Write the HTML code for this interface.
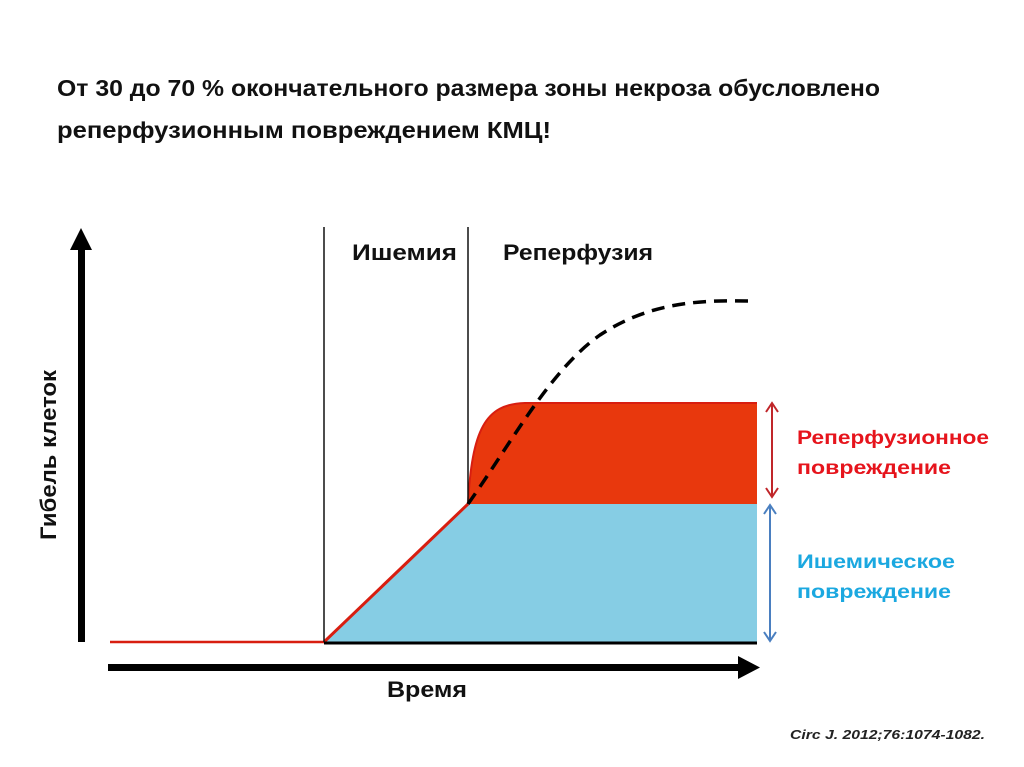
<!DOCTYPE html>
<html><head><meta charset="utf-8"><style>
html,body{margin:0;padding:0;background:#fff;}
svg{display:block;}
text{font-family:"Liberation Sans","DejaVu Sans",sans-serif;font-weight:bold;}
</style></head><body>
<svg width="1024" height="767" viewBox="0 0 1024 767" xmlns="http://www.w3.org/2000/svg">
<text x="57" y="96" font-size="23" fill="#111" textLength="823" lengthAdjust="spacingAndGlyphs">От 30 до 70 % окончательного размера зоны некроза обусловлено</text>
<text x="57" y="138" font-size="23" fill="#111" textLength="494" lengthAdjust="spacingAndGlyphs">реперфузионным повреждением КМЦ!</text>

<polygon points="324,642 468,504 757,504 757,642" fill="#86cde4"/>
<path d="M468,504 C472,430 485,404 525,403 L757,403 L757,504 Z" fill="#e8380d"/>
<path d="M468,504 C472,430 485,404 525,403 L757,403" fill="none" stroke="#d81e10" stroke-width="2"/>
<line x1="324" y1="642" x2="468" y2="504" stroke="#d81e10" stroke-width="3"/>
<line x1="110" y1="642" x2="324" y2="642" stroke="#d81e10" stroke-width="2.5"/>
<line x1="324" y1="643" x2="757" y2="643" stroke="#000" stroke-width="3"/>
<line x1="324" y1="227" x2="324" y2="642" stroke="#111" stroke-width="1.5"/>
<line x1="468" y1="227" x2="468" y2="504" stroke="#111" stroke-width="1.5"/>
<path d="M468,504 C510,445 550,370 600,335 C650,302 700,300 750,301" fill="none" stroke="#000" stroke-width="3.5" stroke-dasharray="13,8"/>
<rect x="78" y="248" width="7" height="394" fill="#000"/>
<polygon points="70,250 81,228 92,250" fill="#000"/>
<rect x="108" y="664" width="632" height="7" fill="#000"/>
<polygon points="738,656 760,667.5 738,679" fill="#000"/>
<g stroke="#c0262a" stroke-width="2" fill="none">
<line x1="772" y1="404" x2="772" y2="496"/>
<polyline points="766,412 772,403 778,412"/>
<polyline points="766,488 772,497 778,488"/>
</g>
<g stroke="#4a7fc0" stroke-width="2" fill="none">
<line x1="770" y1="506" x2="770" y2="640"/>
<polyline points="764,514 770,505 776,514"/>
<polyline points="764,632 770,641 776,632"/>
</g>
<text x="797" y="444" font-size="19" fill="#e6141c" textLength="192" lengthAdjust="spacingAndGlyphs">Реперфузионное</text>
<text x="797" y="474" font-size="19" fill="#e6141c" textLength="154" lengthAdjust="spacingAndGlyphs">повреждение</text>
<text x="797" y="568" font-size="19" fill="#1ba8e0" textLength="158" lengthAdjust="spacingAndGlyphs">Ишемическое</text>
<text x="797" y="598" font-size="19" fill="#1ba8e0" textLength="154" lengthAdjust="spacingAndGlyphs">повреждение</text>

<text x="352" y="260" font-size="22" fill="#111" textLength="105" lengthAdjust="spacingAndGlyphs">Ишемия</text>
<text x="503" y="260" font-size="22" fill="#111" textLength="150" lengthAdjust="spacingAndGlyphs">Реперфузия</text>
<text x="387" y="697" font-size="22" fill="#111" textLength="80" lengthAdjust="spacingAndGlyphs">Время</text>
<text transform="translate(56,540) rotate(-90)" font-size="22" fill="#111" textLength="170" lengthAdjust="spacingAndGlyphs">Гибель клеток</text>
<text x="790" y="739" font-size="13" font-style="italic" fill="#222" textLength="195" lengthAdjust="spacingAndGlyphs">Circ J. 2012;76:1074-1082.</text>
</svg>
</body></html>
